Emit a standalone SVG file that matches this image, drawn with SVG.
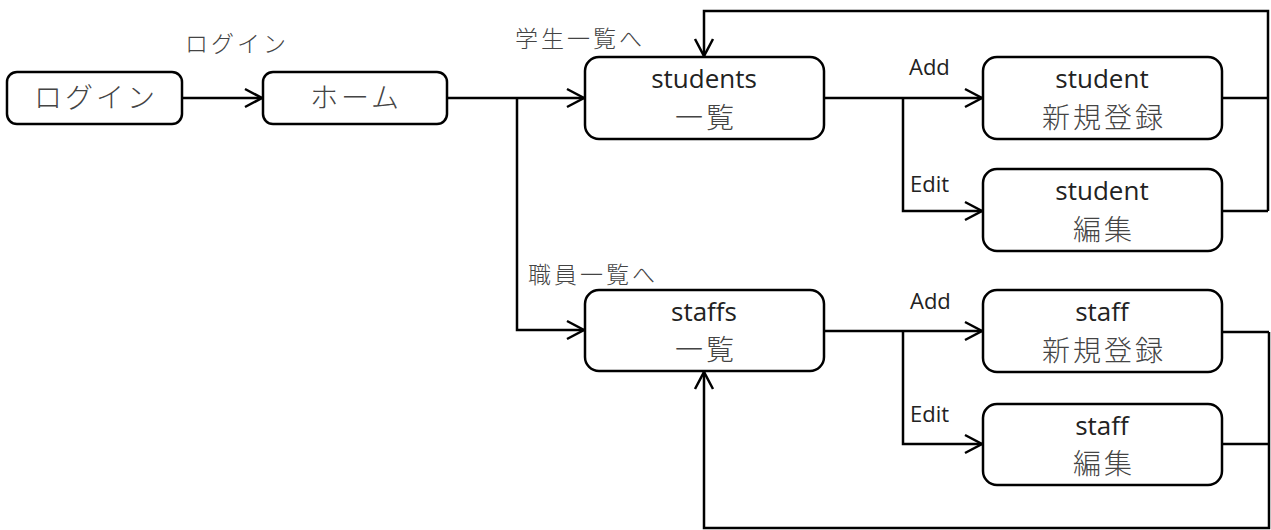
<svg xmlns="http://www.w3.org/2000/svg" width="1271" height="530" viewBox="0 0 1271 530">
<style>
.box{fill:#fff;stroke:#000;stroke-width:2.5}
.ln{fill:none;stroke:#000;stroke-width:2.5}
.lat{font-family:"Open Sans","Liberation Sans",sans-serif;font-size:26px;fill:#222;text-anchor:middle}
.jp{font-family:"Noto Sans CJK JP",sans-serif;font-weight:300;font-size:28px;fill:#444;text-anchor:middle;letter-spacing:3px}
.lbl{font-family:"Noto Sans CJK JP",sans-serif;font-weight:300;font-size:23px;fill:#444;letter-spacing:3px}
.el{font-family:"Open Sans","Liberation Sans",sans-serif;font-size:22px;fill:#222}
</style>
<defs>
<marker id="ah" markerUnits="userSpaceOnUse" markerWidth="24" markerHeight="24" viewBox="-20 -12 24 24" refX="0" refY="0" orient="auto">
<path d="M-17,-9 L0,0 L-17,9" fill="none" stroke="#000" stroke-width="2.5"/>
</marker>
</defs>
<g id="connectors">
<path class="ln" d="M182,98 H262" marker-end="url(#ah)"/>
<path class="ln" d="M447,98 H584" marker-end="url(#ah)"/>
<path class="ln" d="M517,98 V330 H584" marker-end="url(#ah)"/>
<path class="ln" d="M824,98 H982" marker-end="url(#ah)"/>
<path class="ln" d="M903,98 V211 H982" marker-end="url(#ah)"/>
<path class="ln" d="M1222,98 H1268"/>
<path class="ln" d="M1222,211 H1268"/>
<path class="ln" d="M1268,211 V11 H704 V56" marker-end="url(#ah)"/>
<path class="ln" d="M824,331 H982" marker-end="url(#ah)"/>
<path class="ln" d="M903,331 V444 H982" marker-end="url(#ah)"/>
<path class="ln" d="M1222,332 H1269"/>
<path class="ln" d="M1222,444 H1269"/>
<path class="ln" d="M1269,332 V528 H704 V372" marker-end="url(#ah)"/>
<text class="lbl" x="185" y="52">ログイン</text>
<text class="lbl" x="515" y="47">学生一覧へ</text>
<text class="lbl" x="528" y="283">職員一覧へ</text>
<text class="el" x="909" y="75">Add</text>
<text class="el" x="910" y="192">Edit</text>
<text class="el" x="910" y="309">Add</text>
<text class="el" x="910" y="422">Edit</text>
</g>
<g id="login"><rect class="box" x="7" y="72" width="175" height="52" rx="10"/><text class="jp" x="96" y="108">ログイン</text></g>
<g id="home"><rect class="box" x="263" y="72" width="184" height="52" rx="10"/><text class="jp" x="356" y="108">ホーム</text></g>
<g id="students"><rect class="box" x="585" y="57" width="239" height="82" rx="14"/><text class="lat" x="704" y="88">students</text><text class="jp" x="706" y="128">一覧</text></g>
<g id="student-new"><rect class="box" x="983" y="57" width="239" height="82" rx="14"/><text class="lat" x="1102" y="88">student</text><text class="jp" x="1104" y="128">新規登録</text></g>
<g id="student-edit"><rect class="box" x="983" y="169" width="239" height="82" rx="14"/><text class="lat" x="1102" y="200">student</text><text class="jp" x="1104" y="240">編集</text></g>
<g id="staffs"><rect class="box" x="585" y="290" width="239" height="81" rx="14"/><text class="lat" x="704" y="321">staffs</text><text class="jp" x="706" y="360">一覧</text></g>
<g id="staff-new"><rect class="box" x="983" y="290" width="239" height="82" rx="14"/><text class="lat" x="1102" y="321">staff</text><text class="jp" x="1104" y="361">新規登録</text></g>
<g id="staff-edit"><rect class="box" x="983" y="404" width="239" height="81" rx="14"/><text class="lat" x="1102" y="435">staff</text><text class="jp" x="1104" y="474">編集</text></g>
</svg>
